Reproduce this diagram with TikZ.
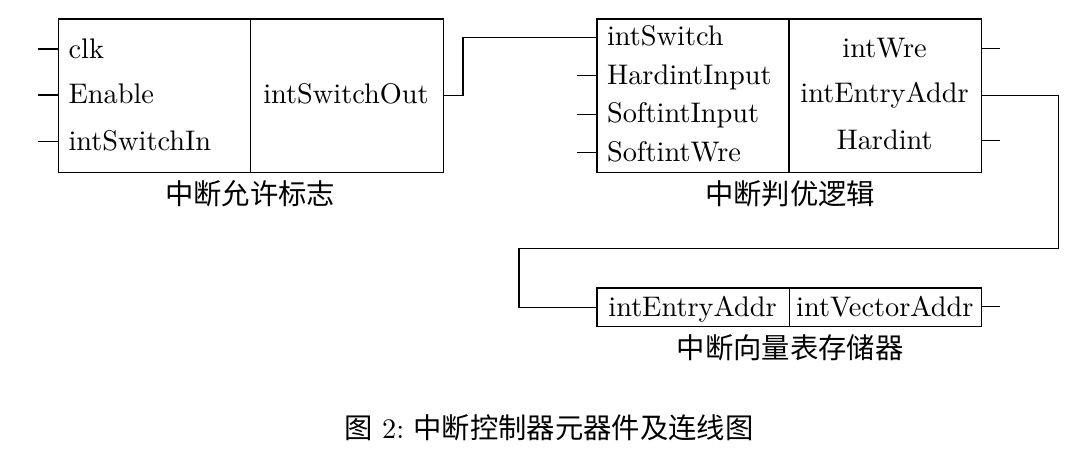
\documentclass[tikz,border=0pt]{standalone}
\usepackage{fontspec}
\newfontfamily\cjk{Noto Sans CJK SC}
\begin{document}
\begin{tikzpicture}[x=0.353pt,y=-0.353pt,
  cell/.style={draw, line width=0.45pt, inner sep=0pt, anchor=north west},
  lbl/.style={inner sep=0pt, anchor=base west},
  clbl/.style={inner sep=0pt, anchor=base},
  captxt/.style={inner sep=0pt, font=\cjk},
  wire/.style={line width=0.45pt}]
\useasboundingbox (0,0) rectangle (1087,461);

% box 1
\node[cell, minimum width=67.78pt, minimum height=54.26pt] (b1a) at (57.5,18.3) {};
\node[cell, minimum width=68.2pt, minimum height=54.26pt] (b1b) at (249.5,18.3) {};
% box 2
\node[cell, minimum width=67.78pt, minimum height=54.26pt] (b2a) at (596.3,18.3) {};
\node[cell, minimum width=68.02pt, minimum height=54.26pt] (b2b) at (788.3,18.3) {};
% box 3
\node[cell, minimum width=67.92pt, minimum height=13.66pt] (b3a) at (596.3,287.3) {};
\node[cell, minimum width=67.88pt, minimum height=13.66pt] (b3b) at (788.7,287.3) {};

% labels box 1
\node[lbl] (clk) at (68,58.3) {clk};
\node[lbl] (en) at (68,104) {Enable};
\node[lbl] (swin) at (68,150.5) {intSwitchIn};
\node[clbl] (swout) at (346,104) {intSwitchOut};
% labels box 2
\node[lbl] (sw) at (606.5,46) {intSwitch};
\node[lbl] (hin) at (606.5,84.5) {HardintInput};
\node[lbl] (sin) at (606.5,123) {SoftintInput};
\node[lbl] (swre) at (606.5,161.5) {SoftintWre};
\node[clbl] (iwre) at (884.6,57.5) {intWre};
\node[clbl] (iea) at (884.6,103) {intEntryAddr};
\node[clbl] (hint) at (884.6,150) {Hardint};
% labels box 3
\node[clbl] (iea3) at (692.5,316.5) {intEntryAddr};
\node[clbl] (iva) at (884.8,316.5) {intVectorAddr};

% captions
\node[captxt] (cap1) at (250,193.3) {中断允许标志};
\node[captxt] (cap2) at (790,193.3) {中断判优逻辑};
\node[captxt] (cap3) at (790,347.5) {中断向量表存储器};
\node[inner sep=0pt] (fig) at (549,427.5) {{\cjk 图}~2:~{\cjk 中断控制器元器件及连线图}};

% port coordinates
\coordinate (p11) at (57.5,49);
\coordinate (p12) at (57.5,95);
\coordinate (p13) at (57.5,141.7);
\coordinate (p21) at (596.3,37.3);
\coordinate (p22) at (596.3,75.7);
\coordinate (p23) at (596.3,114.3);
\coordinate (p24) at (596.3,152.7);
\coordinate (q21) at (981,48.3);
\coordinate (q23) at (981,140.7);
\coordinate (q31) at (981,306.7);
\coordinate (r1) at (1058.3,248.3);
\coordinate (l1) at (519,248.3);

% stubs
\foreach \p in {p11,p12,p13} \draw[wire] (\p) -- ++(-19.5,0);
\foreach \p in {p22,p23,p24} \draw[wire] (\p) -- ++(-19.3,0);
\foreach \p in {q21,q23,q31} \draw[wire] (\p) -- ++(19,0);

% connectors
\draw[wire] (b1b.east) -- ++(19,0) |- (p21);
\draw[wire] (b2b.east) -| (r1) -- (l1) |- (b3a.west);
\end{tikzpicture}
\end{document}
